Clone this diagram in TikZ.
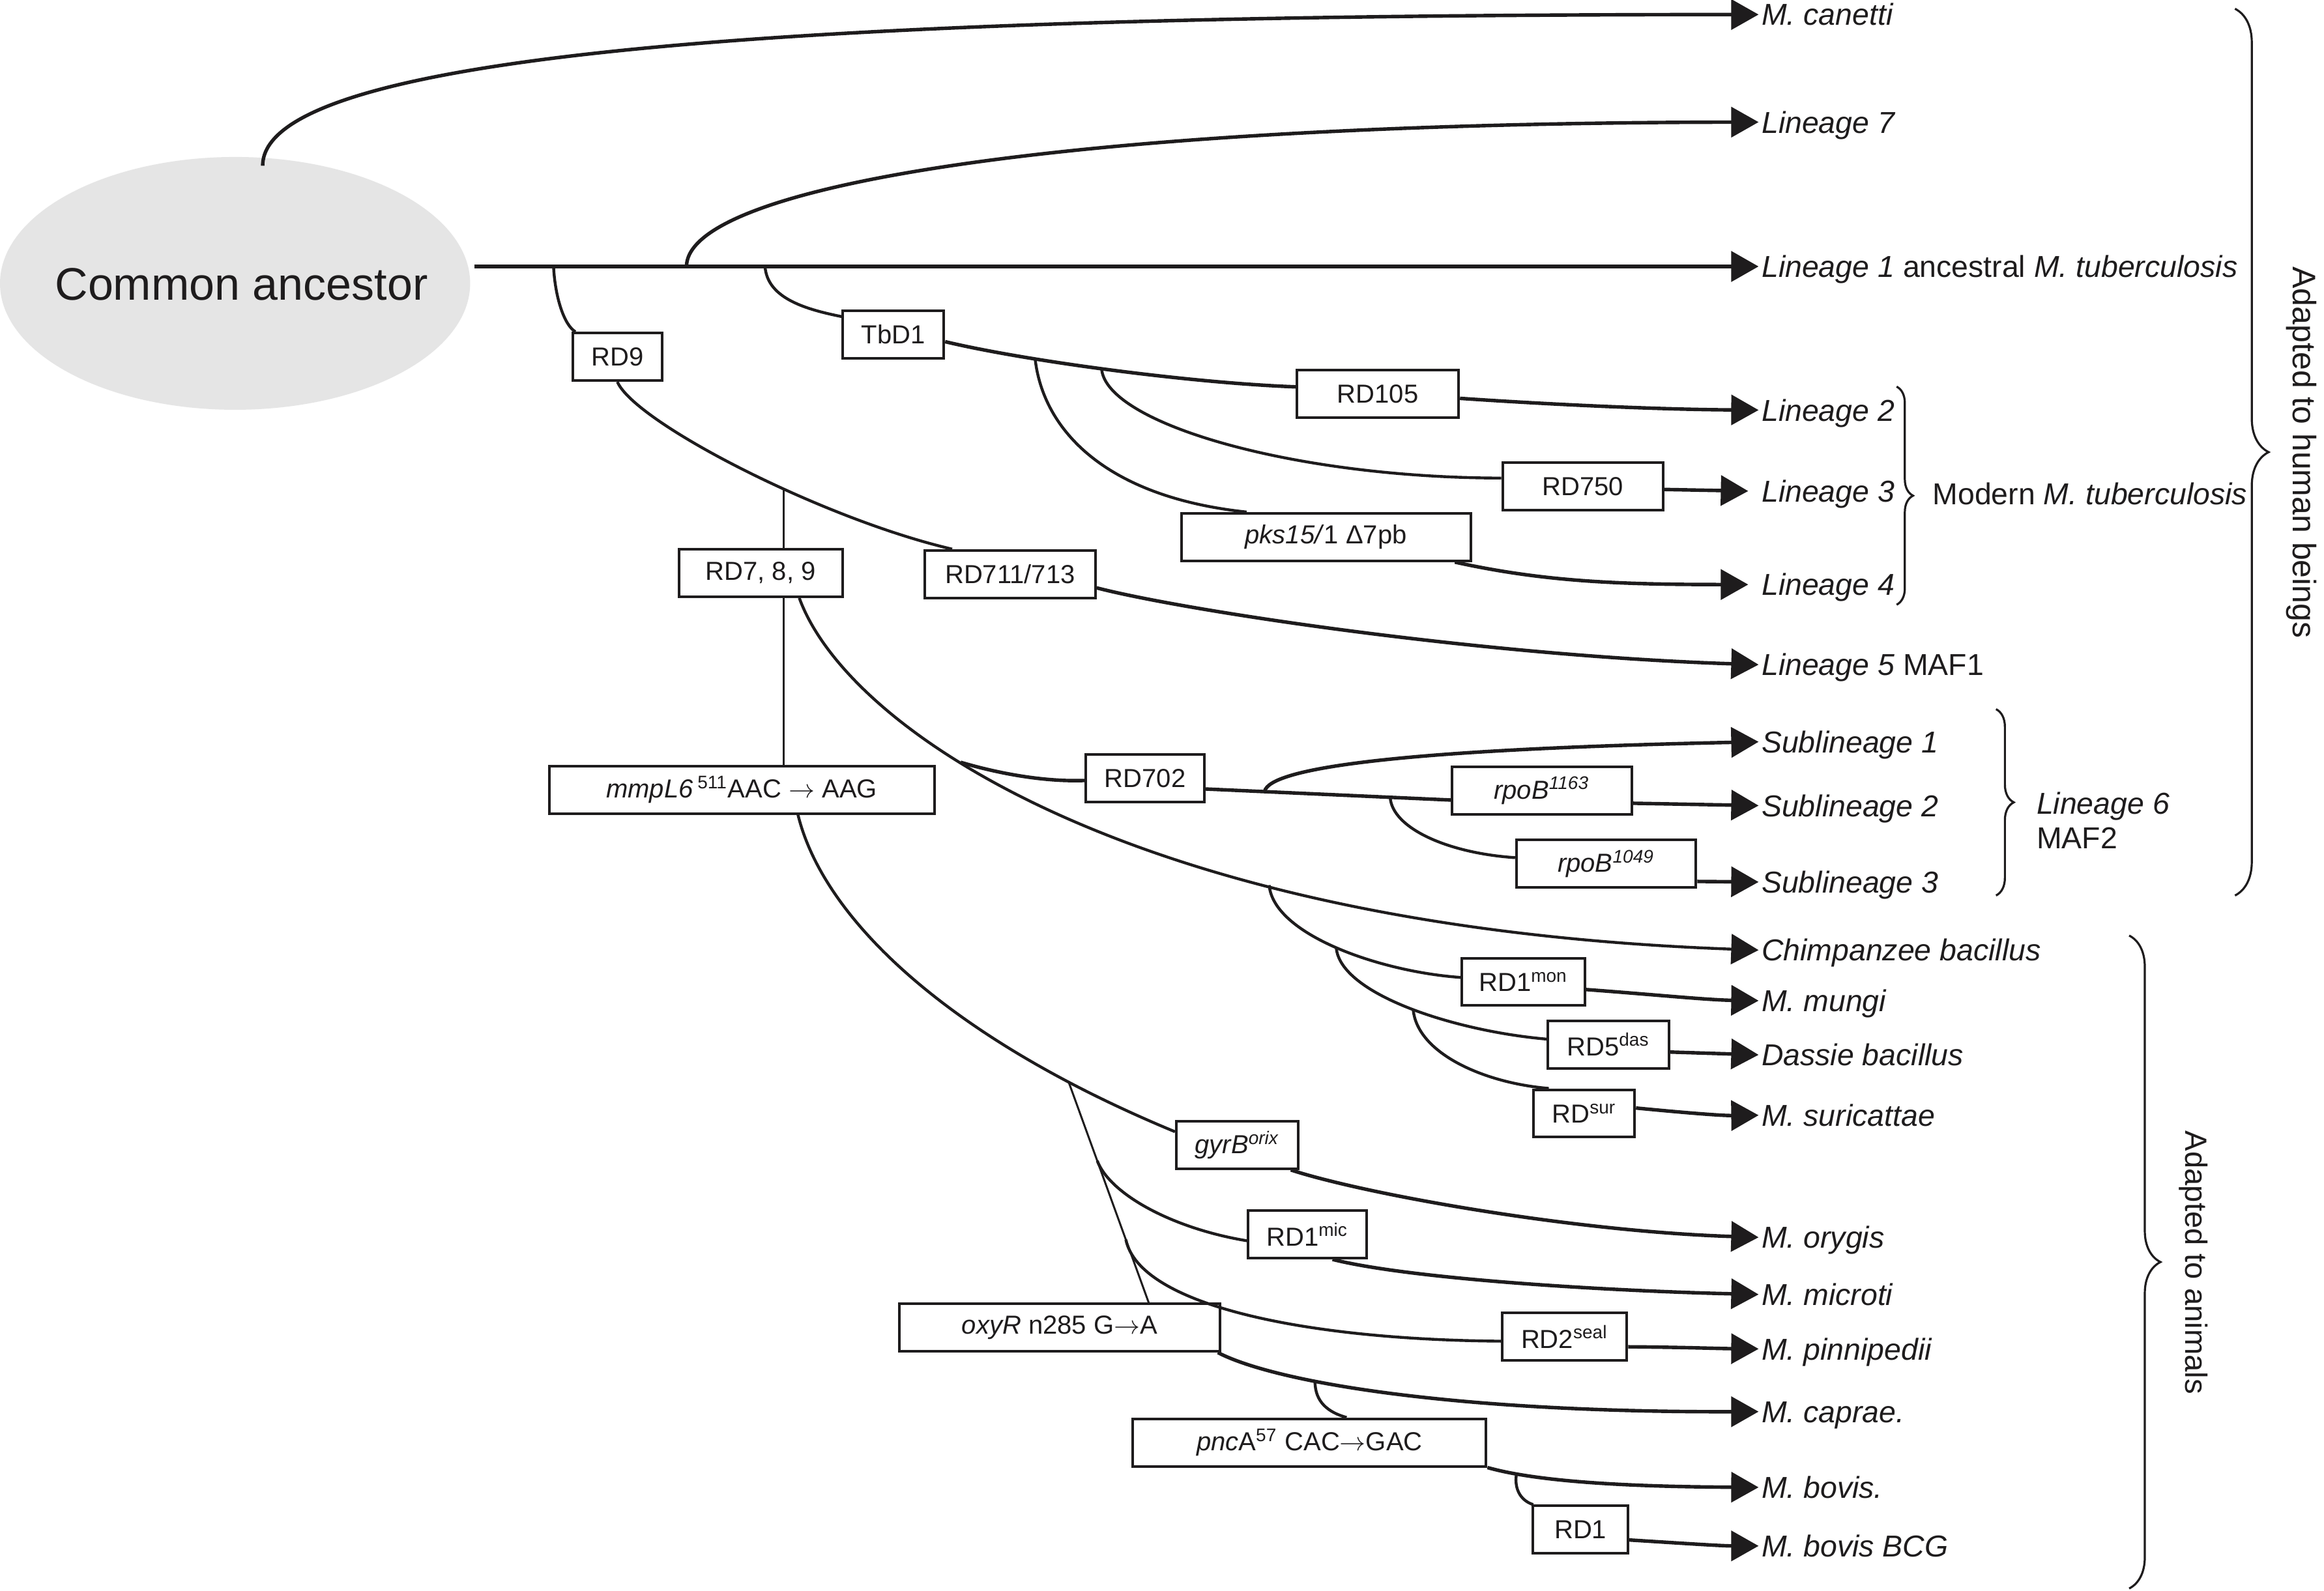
\documentclass[tikz,border=0pt]{standalone}
\usepackage{fontspec}
\setmainfont{Liberation Sans}
\usetikzlibrary{arrows.meta,decorations.pathreplacing,shapes.geometric}
\newcommand{\uu}{*0.02cm}
\definecolor{ancgray}{RGB}{229,229,229}
\definecolor{ink}{RGB}{30,28,29}
\begin{document}
\begin{tikzpicture}[x=0.02cm,y=-0.02cm, color=ink,
  box/.style={draw=ink, line width=1pt, fill=white, inner sep=0pt, minimum height=32\uu, font=\fontsize{10}{12}\selectfont},
  lab/.style={anchor=west, inner sep=1pt, text height=8.3pt, text depth=0pt, font=\fontsize{11.6}{14}\selectfont},
  arr/.style={-{Triangle[length=10.5pt,width=11.5pt]}},
  mainln/.style={line width=1.55pt},
  thk/.style={line width=1.35pt},
  med/.style={line width=1.1pt},
  thn/.style={line width=0.75pt},
  brc/.style={decorate, line width=0.8pt},
  side/.style={font=\fontsize{12.5}{15}\selectfont, rotate=-90, inner sep=0pt}
]
\fill[white] (0,0) rectangle (1566,1072);
\useasboundingbox (0,0) rectangle (1566,1072);

% ancestor
\node[ellipse, fill=ancgray, minimum width=316.8\uu, minimum height=170.4\uu, inner sep=0pt] (anc) at (158.4,191) {};
\node[inner sep=0pt, font=\fontsize{17.5}{20}\selectfont] (anctext) at (162.7,191.7) {Common ancestor};

% labels
\node[lab] (canetti) at (1185,9.8) {\textit{M. canetti}};
\node[lab] (lin7) at (1185,82.3) {\textit{Lineage 7}};
\node[lab] (lin1) at (1185,179.6) {\textit{Lineage 1} ancestral \textit{M. tuberculosis}};
\node[lab] (lin2) at (1185,276.4) {\textit{Lineage 2}};
\node[lab] (lin3) at (1185,331) {\textit{Lineage 3}};
\node[lab] (lin4) at (1185,394) {\textit{Lineage 4}};
\node[lab] (lin5) at (1185,448) {\textit{Lineage 5} MAF1};
\node[lab] (sub1) at (1185,500) {\textit{Sublineage 1}};
\node[lab] (sub2) at (1185,543) {\textit{Sublineage 2}};
\node[lab] (sub3) at (1185,594.5) {\textit{Sublineage 3}};
\node[lab] (chimp) at (1185,640.4) {\textit{Chimpanzee bacillus}};
\node[lab] (mungi) at (1185,674.5) {\textit{M. mungi}};
\node[lab] (dassie) at (1185,711) {\textit{Dassie bacillus}};
\node[lab] (sur) at (1185,751.7) {\textit{M. suricattae}};
\node[lab] (orygis) at (1185,834) {\textit{M. orygis}};
\node[lab] (microti) at (1185,872.5) {\textit{M. microti}};
\node[lab] (pinni) at (1185,909.2) {\textit{M. pinnipedii}};
\node[lab] (caprae) at (1185,951.5) {\textit{M. caprae.}};
\node[lab] (bovis) at (1185,1002.5) {\textit{M. bovis.}};
\node[lab] (bcg) at (1185,1042) {\textit{M. bovis BCG}};

% boxes
\node[box, minimum width=60\uu] (rd9) at (416,240.5) {RD9};
\node[box, minimum width=68\uu] (tbd1) at (602,225.4) {TbD1};
\node[box, minimum width=109\uu] (rd105) at (928.4,265.6) {RD105};
\node[box, minimum width=108\uu] (rd750) at (1066.5,328) {RD750};
\node[box, minimum width=195\uu] (pks) at (893.5,362) {\textit{pks15/}1 Δ7pb};
\node[box, minimum width=110\uu] (rd789) at (512.6,386.2) {RD7, 8, 9};
\node[box, minimum width=115\uu] (rd711) at (680.6,387) {RD711/713};
\node[box, minimum width=259.6\uu] (mmpl6) at (499.8,532.3) {\textit{mmpL6}\,\textsuperscript{511}AAC $\rightarrow$ AAG};
\node[box, minimum width=80\uu] (rd702) at (771.6,524.6) {RD702};
\node[box, minimum width=121\uu] (rpob1163) at (1038.9,532.8) {\textit{rpoB\textsuperscript{1163}}};
\node[box, minimum width=121\uu] (rpob1049) at (1082.3,582.2) {\textit{rpoB\textsuperscript{1049}}};
\node[box, minimum width=83\uu] (rd1mon) at (1026.5,661.8) {RD1\textsuperscript{mon}};
\node[box, minimum width=81.5\uu] (rd5das) at (1083.8,704) {RD5\textsuperscript{das}};
\node[box, minimum width=68\uu] (rdsur) at (1067.5,750.5) {RD\textsuperscript{sur}};
\node[box, minimum width=82\uu] (gyrb) at (833.6,771.7) {\textit{gyrB\textsuperscript{orix}}};
\node[box, minimum width=80\uu] (rd1mic) at (881,832) {RD1\textsuperscript{mic}};
\node[box, minimum width=84\uu] (rd2seal) at (1054.3,901) {RD2\textsuperscript{seal}};
\node[box, minimum width=216\uu] (oxyr) at (714,894.8) {\textit{oxyR} n285 G$\rightarrow$A};
\node[box, minimum width=238\uu] (pnca) at (882.4,972.3) {\textit{pnc}A\textsuperscript{57} CAC$\rightarrow$GAC};
\node[box, minimum width=64\uu] (rd1) at (1065,1031) {RD1};

% junctions on the trunk
\coordinate (m0) at (319.5,179.6);
\coordinate (j9) at (373,179.6);
\coordinate (j7) at (462.6,179.6);
\coordinate (jt) at (515.5,179.6);
\coordinate (c0) at (177,111.7);

% trunk and top branches
\draw[arr, mainln] (m0) -- (lin1.west);
\draw[arr, thk] (c0) .. controls (177,30) and (600,10) .. (canetti.west);
\draw[arr, thk] (j7) .. controls (463,125) and (720,83) .. (lin7.west);

% RD9 side
\draw[med] (j9) .. controls (374,200) and (380,219) .. (rd9);
\draw[med] (rd9.south) .. controls (428,285) and (555,350) .. ([xshift=-39\uu]rd711.north) coordinate[pos=0.6] (j789);
\draw[arr, thk] (rd711.-9) .. controls (800,412) and (1000,442) .. (lin5.west);
\draw[thn] (j789) -- (j789 |- rd789.north);
\draw[thn] (j789 |- rd789.south) -- (j789 |- mmpl6.north);

% chimpanzee curve and Lineage 6
\draw[arr, med] ([xshift=26\uu]rd789.south) .. controls (570,490) and (760,625) .. (chimp.west)
   coordinate[pos=0.38] (j702) coordinate[pos=0.69] (jm);
\draw[thk] (j702) .. controls (675,522) and (705,527) .. (rd702);
\draw[thk] (rd702.-10.5) -- (rpob1163.-174.8) coordinate[pos=0.24] (js1) coordinate[pos=0.753] (js3);
\draw[arr, thk] (js1) .. controls (855,517) and (950,505) .. (sub1.west);
\draw[arr, thk] (rpob1163.-8.2) -- (sub2.west);
\draw[med] (js3) .. controls (938,558) and (975,575) .. (rpob1049);
\draw[arr, thk] (rpob1049.-11.2) -- (sub3.west);

% mungi, dassie, suricattae
\draw[med] (jm) .. controls (858,630) and (930,655) .. (rd1mon) coordinate[pos=0.5] (jd);
\draw[arr, thk] (rd1mon.-7) .. controls (1110,670) and (1150,674) .. (mungi.west);
\draw[med] (jd) .. controls (903,670) and (980,695) .. (rd5das) coordinate[pos=0.52] (jsu);
\draw[arr, thk] (rd5das.-7) -- (dassie.west);
\draw[med] (jsu) .. controls (955,710) and (1000,730) .. ([xshift=11\uu]rdsur.north west);
\draw[arr, thk] (rdsur.6.7) .. controls (1135,750) and (1160,752) .. (sur.west);

% animal lineages
\draw[med] (mmpl6.-24.9) .. controls (555,620) and (640,700) .. (gyrb.168.6) coordinate[pos=0.83] (jo);
\draw[arr, thk] (gyrb.-25.7) .. controls (920,805) and (1060,830) .. (orygis.west);
\draw[thn] (jo) -- ([xshift=60\uu]oxyr.north) coordinate[pos=0.357] (jmic) coordinate[pos=0.715] (jseal);
\draw[med] (jmic) .. controls (748,805) and (790,828) .. (rd1mic.-174.3);
\draw[arr, thk] (rd1mic.-45.9) .. controls (950,862) and (1080,870) .. (microti.west);
\draw[med] (jseal) .. controls (768,880) and (880,903) .. (rd2seal.-176.6);
\draw[arr, thk] (rd2seal.-9.5) .. controls (1130,908) and (1160,909) .. (pinni.west);
\draw[arr, thk] (oxyr.-9.3) .. controls (860,932) and (980,952) .. (caprae.west) coordinate[pos=0.33] (jp);
\draw[med] (jp) .. controls (886,945) and (895,952) .. ([xshift=25\uu]pnca.north);
\draw[arr, thk] (pnca.south east) .. controls (1030,997) and (1080,1002) .. (bovis.west) coordinate[pos=0.2] (jr);
\draw[med] (jr) .. controls (1020,1005) and (1026,1012) .. ([xshift=1\uu]rd1.north west);
\draw[arr, thk] (rd1.-12.3) .. controls (1130,1040) and (1160,1042) .. (bcg.west);

% TbD1 side (modern lineages)
\draw[med] (jt) .. controls (517,200) and (540,208) .. (tbd1.161);
\draw[thk] (tbd1.-8.4) .. controls (690,243) and (800,258) .. (rd105.175.5) coordinate[pos=0.3] (jpks) coordinate[pos=0.48] (j750);
\draw[arr, thk] (rd105.-3.2) .. controls (1050,273) and (1120,276) .. (lin2.west);
\draw[med] (jpks) .. controls (703,290) and (745,335) .. ([xshift=-53.5\uu]pks.north);
\draw[arr, thk] (pks.-11.3) .. controls (1040,392) and (1090,394) .. ([xshift=-7\uu]lin4.west);
\draw[med] (j750) .. controls (745,285) and (870,322) .. (rd750.174.4);
\draw[arr, thk] (rd750.-2) -- ([xshift=-7\uu]lin3.west);

% braces and group labels
\draw[brc, decoration={brace, amplitude=6.3pt}] (1278,260.6) -- (1278,407.6);
\node[lab, inner sep=0pt] (modern) at (1302,333) {Modern \textit{M. tuberculosis}};
\draw[brc, decoration={brace, amplitude=6.8pt}] (1345,478) -- (1345,603.6);
\node[anchor=west, inner sep=0pt, align=left, font=\fontsize{11.6}{13.4}\selectfont] (l6) at (1372,553) {\textit{Lineage 6}\\MAF2};
\draw[brc, decoration={brace, amplitude=12.9pt}] (1506,5.9) -- (1506,603.6);
\node[side] (human) at (1551,305) {Adapted to human beings};
\draw[brc, decoration={brace, amplitude=12pt}] (1434.7,630.6) -- (1434.7,1070.7);
\node[side, font=\fontsize{11.8}{14}\selectfont] (animals) at (1478,851) {Adapted to animals};
\end{tikzpicture}
\end{document}
